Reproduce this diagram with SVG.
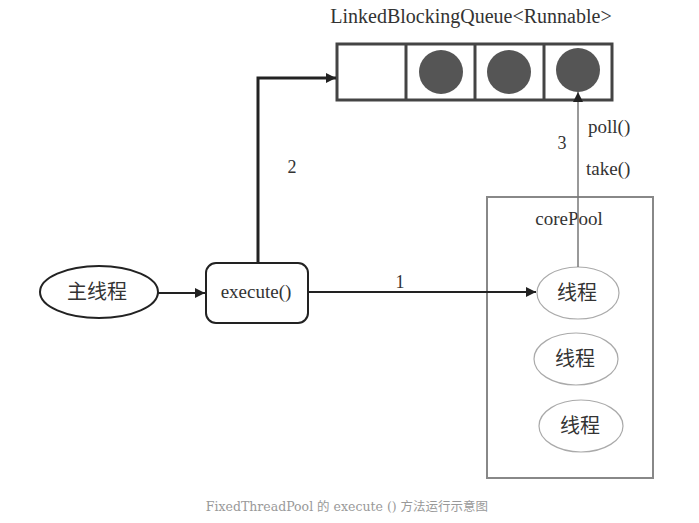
<svg xmlns="http://www.w3.org/2000/svg" width="699" height="523" viewBox="0 0 699 523">
<defs>
<style>
.t{font-family:"Liberation Serif","Noto Sans CJK SC",serif;fill:#333;}
.cn{font-family:"Noto Sans CJK SC",sans-serif;fill:#333;}
.thin{fill:none;stroke:#777;stroke-width:1.5;}
.thick{fill:none;stroke:#222;stroke-width:3;}
.mid{fill:none;stroke:#222;stroke-width:2;}
</style>
<marker id="ah2" viewBox="0 0 10 10" refX="10" refY="5" markerWidth="10" markerHeight="10" markerUnits="userSpaceOnUse" orient="auto">
<path d="M0,0 L10,5 L0,10 z" fill="#222"/>
</marker>
</defs>
<rect width="699" height="523" fill="#fff"/>

<g id="queue">
<text class="t" x="471" y="23" font-size="20" text-anchor="middle">LinkedBlockingQueue&lt;Runnable&gt;</text>
<rect x="337" y="44" width="275" height="56" fill="#fff" stroke="#444" stroke-width="3"/>
<line x1="406" y1="44" x2="406" y2="100" stroke="#444" stroke-width="3"/>
<line x1="475" y1="44" x2="475" y2="100" stroke="#444" stroke-width="3"/>
<line x1="544" y1="44" x2="544" y2="100" stroke="#444" stroke-width="3"/>
<circle cx="441" cy="72" r="22" fill="#555"/>
<circle cx="509" cy="72" r="22" fill="#555"/>
<circle cx="578" cy="70" r="22" fill="#555"/>
</g>

<g id="main">
<ellipse cx="99" cy="292" rx="59" ry="26" fill="#fff" stroke="#222" stroke-width="2"/>
<text class="cn" x="97" y="299" font-size="20" text-anchor="middle">主线程</text>
</g>

<g id="execute">
<rect x="206" y="263" width="102" height="60" rx="10" fill="#fff" stroke="#222" stroke-width="2"/>
<text class="t" x="256" y="298" font-size="19" text-anchor="middle">execute()</text>
</g>

<g id="corePool">
<rect x="487" y="197" width="166" height="281" fill="none" stroke="#888" stroke-width="2"/>
<text class="t" x="569" y="225" font-size="19" text-anchor="middle">corePool</text>
</g>

<g id="thread1">
<ellipse cx="578" cy="293" rx="41" ry="26" fill="#fff" stroke="#aaa" stroke-width="1.2"/>
<text class="cn" x="577" y="300" font-size="20" text-anchor="middle">线程</text>
</g>
<g id="thread2">
<ellipse cx="576" cy="359" rx="42" ry="26" fill="#fff" stroke="#aaa" stroke-width="1.2"/>
<text class="cn" x="575" y="366" font-size="20" text-anchor="middle">线程</text>
</g>
<g id="thread3">
<ellipse cx="581" cy="426" rx="42" ry="26" fill="#fff" stroke="#aaa" stroke-width="1.2"/>
<text class="cn" x="580" y="433" font-size="20" text-anchor="middle">线程</text>
</g>

<g id="connectors">
<line x1="158" y1="293" x2="205" y2="293" class="mid" marker-end="url(#ah2)"/>
<polyline points="258,263 258,78 336,78" class="thick" marker-end="url(#ah2)"/>
<line x1="308" y1="292" x2="536" y2="292" class="mid" marker-end="url(#ah2)"/>
<line x1="578" y1="267" x2="578" y2="92" class="thin" marker-end="url(#ah2)"/>
<text class="t" x="400" y="288" font-size="18" text-anchor="middle">1</text>
<text class="t" x="292" y="173" font-size="18" text-anchor="middle">2</text>
<text class="t" x="562" y="149" font-size="18" text-anchor="middle">3</text>
<text class="t" x="588" y="133" font-size="19">poll()</text>
<text class="t" x="586" y="175" font-size="19">take()</text>
</g>

<text x="347" y="511" font-family="'DejaVu Serif','Noto Sans CJK SC',serif" font-size="12.5" fill="#999" text-anchor="middle">FixedThreadPool 的 execute () 方法运行示意图</text>
</svg>
